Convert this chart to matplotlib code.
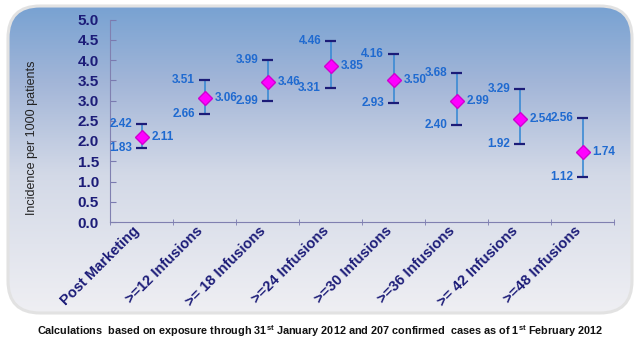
import numpy as np
import matplotlib
matplotlib.use('Agg')
import matplotlib.pyplot as plt
from matplotlib.patches import FancyBboxPatch
from matplotlib.colors import LinearSegmentedColormap
from matplotlib.transforms import ScaledTranslation

plt.rcParams['font.family'] = ['Liberation Sans', 'DejaVu Sans']
plt.rcParams['mathtext.fontset'] = 'custom'
plt.rcParams['mathtext.rm'] = 'Liberation Sans:bold'
plt.rcParams['mathtext.it'] = 'Liberation Sans:bold'

# Incidence per 1000 patients, with confidence bounds
groups = ['Post Marketing', '>=12 Infusions', '>= 18 Infusions', '>=24 Infusions',
          '>=30 Infusions', '>=36 Infusions', '>= 42 Infusions', '>=48 Infusions']
incidence = [2.11, 3.06, 3.46, 3.85, 3.50, 2.99, 2.54, 1.74]
upper_ci = [2.42, 3.51, 3.99, 4.46, 4.16, 3.68, 3.29, 2.56]
lower_ci = [1.83, 2.66, 2.99, 3.31, 2.93, 2.40, 1.92, 1.12]

navy = '#1c1c78'
label_blue = '#1f6ad0'

fig = plt.figure(figsize=(6.4, 3.43), dpi=100)

# rounded panel with vertical gradient behind the plot
bg = fig.add_axes([0, 0, 1, 1])
bg.set_xlim(0, 640)
bg.set_ylim(343, 0)
bg.axis('off')
panel = FancyBboxPatch((8, 6), 624, 307, boxstyle='round,pad=0,rounding_size=32',
                       facecolor='none', edgecolor='#e2e2e2', linewidth=2.2, zorder=3)
bg.add_patch(panel)
cmap = LinearSegmentedColormap.from_list(
    'panel', [(0, '#78a2d2'), (0.25, '#a3b6d8'), (0.55, '#d3d9e7'), (1, '#efeff3')])
grad = np.linspace(0, 1, 256).reshape(-1, 1)
im = bg.imshow(grad, cmap=cmap, extent=(8, 632, 313, 6), aspect='auto', zorder=1)
im.set_clip_path(panel)

ax = fig.add_axes([110 / 640, 1 - 222 / 343, 504 / 640, 202.5 / 343])
ax.patch.set_alpha(0)
x = np.arange(len(groups))
inc = np.array(incidence)
up = np.array(upper_ci)
lo = np.array(lower_ci)

ax.vlines(x, lo, up, color='#3b8ad4', linewidth=1.2, zorder=2)
ax.hlines(up, x - 0.095, x + 0.095, color=navy, linewidth=1.6, zorder=3)
ax.hlines(lo, x - 0.095, x + 0.095, color=navy, linewidth=1.6, zorder=3)
ax.plot(x, inc, linestyle='none', marker='D', markersize=7.5,
        markerfacecolor='#ff00ff', markeredgecolor='#d000d0', zorder=4)

for xi, m, u, l in zip(x, incidence, upper_ci, lower_ci):
    ax.text(xi + 0.16, m, f'{m:.2f}', color=label_blue, fontsize=8.5,
            fontweight='bold', ha='left', va='center')
    ax.text(xi - 0.15, u, f'{u:.2f}', color=label_blue, fontsize=8.5,
            fontweight='bold', ha='right', va='center')
    ax.text(xi - 0.15, l, f'{l:.2f}', color=label_blue, fontsize=8.5,
            fontweight='bold', ha='right', va='center')

ax.set_xlim(-0.5, len(groups) - 0.5)
ax.set_ylim(0, 5)
ax.set_yticks(np.arange(0, 5.01, 0.5))
ax.set_yticklabels([f'{v:.1f}' for v in np.arange(0, 5.01, 0.5)],
                   fontsize=11, fontweight='bold', color=navy)

# slanted category names, nudged left of each category centre
ax.set_xticks(x)
ax.set_xticklabels([])
label_tr = ax.get_xaxis_transform() + ScaledTranslation(-0.09, -0.02, fig.dpi_scale_trans)
for xi, name in zip(x, groups):
    ax.text(xi, 0, name, transform=label_tr, rotation=45, ha='right', va='top',
            rotation_mode='anchor', fontsize=10.5, fontweight='bold', color=navy)

ax.set_xticks(np.arange(-0.5, len(groups)), minor=True)
ax.tick_params(axis='x', which='major', length=0)
ax.tick_params(axis='x', which='minor', length=5, direction='inout', color='#7a7ab0')
ax.tick_params(axis='y', length=4, direction='in', color='#7a7ab0', pad=8)
for side in ['top', 'right']:
    ax.spines[side].set_visible(False)
for side in ['left', 'bottom']:
    ax.spines[side].set_color('#8080b0')
ax.set_ylabel('Incidence per 1000 patients', fontsize=9, color='#222222')
ax.yaxis.set_label_coords(-(110 - 38) / 504, 0.415)

fig.text(0.5, 1 - 331 / 343,
         r'Calculations  based on exposure through 31$^{st}$ January 2012 and 207 confirmed  cases as of 1$^{st}$ February 2012',
         ha='center', va='center', fontsize=7.8, fontweight='bold', color='#111111')

fig.savefig('out.png', dpi=100)
